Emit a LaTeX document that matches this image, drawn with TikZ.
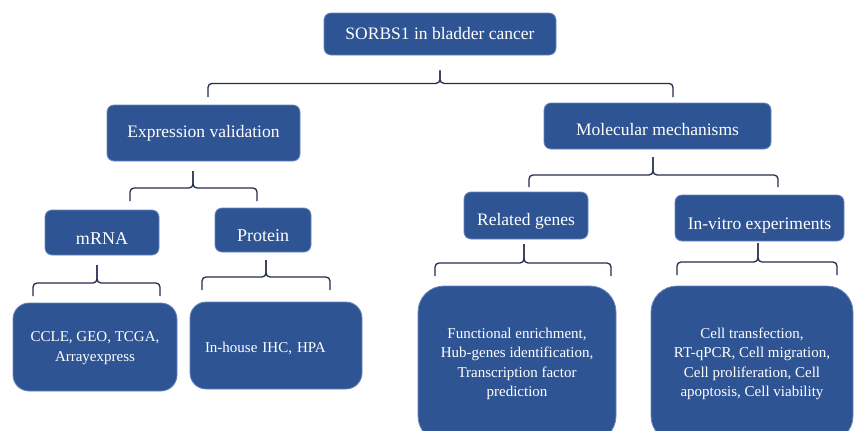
\documentclass[tikz,border=0pt]{standalone}
\usepackage{fontspec}
\setmainfont{Liberation Serif}
\definecolor{boxblue}{RGB}{47,84,148}
\definecolor{boxedge}{RGB}{105,135,188}
\definecolor{bracecol}{RGB}{35,45,78}
\newcommand{\dn}[2]{\raisebox{-#1}[\height][\depth]{#2}}
\begin{document}
\begin{tikzpicture}[x=1pt,y=-1pt,
  box/.style={draw=boxedge, line width=0.8pt, fill=boxblue, text=white,
    rounded corners=7pt, inner sep=0pt, align=center,
    font=\fontsize{17.5}{21}\selectfont},
  leaf/.style={box, font=\fontsize{15}{19.5}\selectfont},
  brace/.style={draw=bracecol, line width=1.3pt, rounded corners=4pt}]
\useasboundingbox (0,0) rectangle (854,431);
\fill[white] (0,0) rectangle (854,431);

% level 0
\node[box, minimum width=232pt, minimum height=42pt] (top) at (440,34) {SORBS1 in bladder cancer};
% level 1
\node[box, minimum width=193pt, minimum height=56pt] (expr) at (203.5,133) {Expression validation};
\node[box, minimum width=227pt, minimum height=46pt] (mol) at (657.5,126) {\dn{4pt}{Molecular mechanisms}};
% level 2
\node[box, minimum width=114pt, minimum height=45pt, font=\fontsize{18}{21}\selectfont] (mrna) at (102,232.5) {\dn{6pt}{mRNA}};
\node[box, minimum width=96pt, minimum height=44pt, font=\fontsize{18}{21}\selectfont] (prot) at (263,230) {\dn{6pt}{Protein}};
\node[box, minimum width=124pt, minimum height=47pt] (rel) at (526,215.5) {\dn{6pt}{Related genes}};
\node[box, minimum width=169pt, minimum height=46pt] (vitro) at (759.5,218) {\dn{8pt}{In-vitro experiments}};
% level 3
\node[leaf, rounded corners=16pt, minimum width=164pt, minimum height=88pt] (ccle) at (95,347) {\dn{1pt}{CCLE, GEO, TCGA,}\\\dn{1pt}{Arrayexpress}};
\node[leaf, rounded corners=16pt, minimum width=172pt, minimum height=87pt, text width=142pt, align=left] (ihc) at (276,345.5) {\dn{3pt}{In-house IHC, HPA}};
\node[leaf, rounded corners=26pt, minimum width=198pt, minimum height=156pt] (func) at (517,364) {Functional enrichment,\\Hub-genes identification,\\Transcription factor\\prediction};
\node[leaf, rounded corners=26pt, minimum width=202pt, minimum height=156pt] (cell) at (752,364) {Cell transfection,\\RT-qPCR, Cell migration,\\Cell proliferation, Cell\\apoptosis, Cell viability};

% brace coordinates
\coordinate (t0) at ([yshift=-15pt]top.south);
\coordinate (h0) at ([yshift=-28pt]top.south);
\coordinate (l0) at (208,97);
\coordinate (r0) at (673,97);

\coordinate (t1) at (193,171);
\coordinate (h1) at (193,188);
\coordinate (l1) at (130,201);
\coordinate (r1) at (257,201);

\coordinate (t2) at (97,265);
\coordinate (h2) at (97,283);
\coordinate (l2) at (33,296);
\coordinate (r2) at (160,296);

\coordinate (t3) at (266,260);
\coordinate (h3) at (266,277);
\coordinate (l3) at (202,290);
\coordinate (r3) at (330,290);

\coordinate (t4) at (653,157);
\coordinate (h4) at (653,175);
\coordinate (l4) at (529,187);
\coordinate (r4) at (778,187);

\coordinate (t5) at (524,244);
\coordinate (h5) at (524,263);
\coordinate (l5) at (435,276);
\coordinate (r5) at (611,276);

\coordinate (t6) at (758,243);
\coordinate (h6) at (758,262);
\coordinate (l6) at (677,275);
\coordinate (r6) at (837,275);

\foreach \i in {0,...,6}{
  \draw[brace] (l\i) -- (l\i |- h\i) -- (h\i) -- (t\i);
  \draw[brace] (r\i) -- (r\i |- h\i) -- (h\i) -- (t\i);
}
\end{tikzpicture}
\end{document}
